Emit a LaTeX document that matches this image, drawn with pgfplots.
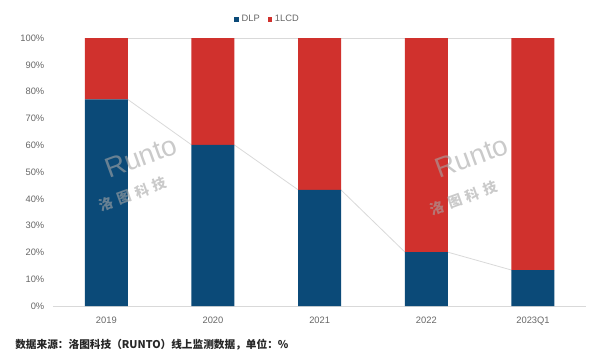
\documentclass[border=0pt]{standalone}
\usepackage{pgfplots}
\pgfplotsset{compat=1.18}
\usepackage{fontspec}
\setmainfont{Liberation Sans}
\newfontfamily\cjk{Noto Sans CJK SC}
\newfontfamily\cjkwide[LetterSpace=35]{Noto Sans CJK SC}
\definecolor{dlp}{HTML}{0B4A78}
\definecolor{lcd}{HTML}{D0312D}
\definecolor{tickc}{HTML}{666666}
\definecolor{sline}{HTML}{D9D9D9}
\begin{document}
\begin{tikzpicture}[x=1pt,y=1pt]
\useasboundingbox (-39.75,-41.25) rectangle (410.25,229.5);
% series lines (drawn beneath the bars)
\begin{axis}[at={(0,0)},anchor=south west,
  scale only axis,width=400pt,height=201pt,
  xmin=-0.5,xmax=4.5,ymin=0,ymax=100,
  hide axis]
\addplot[sline,line width=0.6pt] coordinates {(0.2,100) (3.8,100)};
\addplot[sline,line width=0.6pt] coordinates {(0.2,77.1) (0.8,60.1)};
\addplot[sline,line width=0.6pt] coordinates {(1.2,60.1) (1.8,43.3)};
\addplot[sline,line width=0.6pt] coordinates {(2.2,43.3) (2.8,20.1)};
\addplot[sline,line width=0.6pt] coordinates {(3.2,20.1) (3.8,13.4)};
\end{axis}
\begin{axis}[at={(0,0)},anchor=south west,
  scale only axis,width=400pt,height=201pt,
  xmin=-0.5,xmax=4.5,ymin=0,ymax=100,
  ybar stacked, bar width=32.25pt,
  axis x line*=bottom, axis y line*=left,
  y axis line style={draw=none},
  x axis line style={draw=sline,line width=0.6pt},
  major tick length=0pt,
  xtick={0,1,2,3,4},
  xticklabels={2019,2020,2021,2022,2023Q1},
  ytick={0,10,...,100},
  yticklabel={\pgfmathprintnumber{\tick}\%},
  tick label style={font=\fontsize{7}{8}\selectfont,text=tickc},
  yticklabel style={xshift=-3pt},
  xticklabel style={yshift=-4.5pt},
  /pgf/number format/assume math mode=true,
  legend style={at={(rel axis cs:0.403,1.069)},anchor=center,draw=none,
    fill=none,font=\fontsize{7}{8}\selectfont,text=tickc,
    legend columns=-1,inner sep=0pt,
    /tikz/every even column/.append style={column sep=4pt}},
  legend image code/.code={\fill[#1] (0pt,-1.7pt) rectangle (3.4pt,1.7pt);},
  ]
\addplot[fill=dlp,draw=none] coordinates {(0,77.1) (1,60.1) (2,43.3) (3,20.1) (4,13.4)};
\addplot[fill=lcd,draw=none] coordinates {(0,22.9) (1,39.9) (2,56.7) (3,79.9) (4,86.6)};
\legend{DLP,1LCD}
\end{axis}
% watermark (on top of the bars)
\begin{scope}[every node/.style={rotate=20,text=gray!70,opacity=0.6,inner sep=0pt}]
\node[font=\fontsize{21}{21}\selectfont] at (66,112) {Runto};
\node[font=\cjkwide\bfseries\fontsize{10.5}{11}\selectfont] at (60,84) {洛图科技};
\node[font=\fontsize{21}{21}\selectfont] at (314,112) {Runto};
\node[font=\cjkwide\bfseries\fontsize{10.5}{11}\selectfont] at (308,81) {洛图科技};
\end{scope}
\node[anchor=west,inner sep=0pt,font=\cjk\bfseries\fontsize{8}{9}\selectfont,text=black!85] at (-28.5,-29.25) {数据来源：洛图科技（RUNTO）线上监测数据，单位：\%};
\end{tikzpicture}
\end{document}
